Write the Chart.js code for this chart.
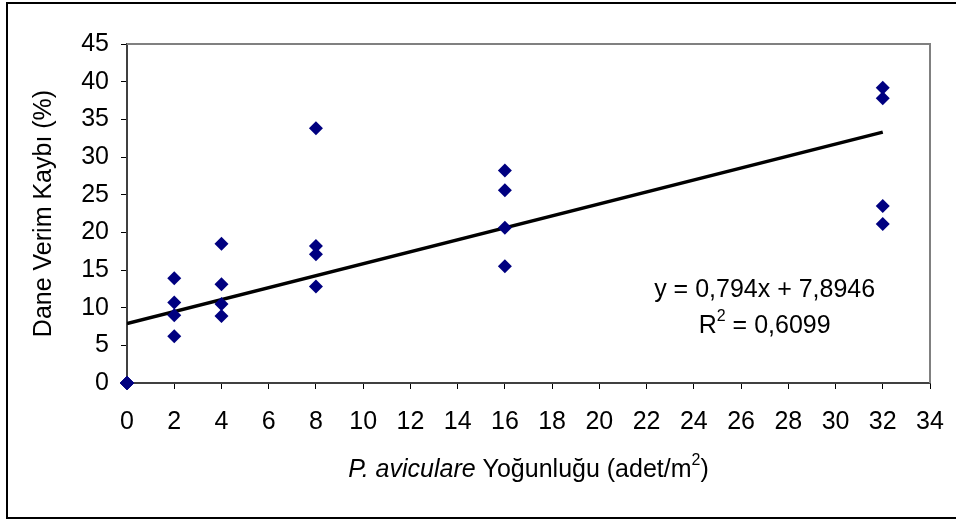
<!DOCTYPE html>
<html>
<head>
<meta charset="utf-8">
<script src="https://cdn.jsdelivr.net/npm/chart.js@4"></script>
<style>
  html, body { margin: 0; padding: 0; background: #fff; }
  #wrap { width: 956px; height: 521px; }
</style>
</head>
<body>
<div id="wrap"><canvas id="chart" width="956" height="521"></canvas></div>
<script>
// yoğunluk (adet/m2) ve dane verim kaybı (%)
const density = [0, 0, 0, 0, 2, 2, 2, 2, 4, 4, 4, 4, 8, 8, 8, 8, 16, 16, 16, 16, 32, 32, 32, 32];
const yieldLoss = [0, 0, 0, 0, 13.9, 10.7, 9.0, 6.2, 18.5, 13.1, 10.5, 8.9, 33.8, 18.2, 17.1, 12.8, 28.2, 25.6, 20.6, 15.5, 39.2, 37.8, 23.5, 21.1];

// trend çizgisi katsayıları (grafikte yazan)
const slope = 0.794;
const intercept = 7.8946;
const rSquared = '0,6099';
const trendX = [0, 32];

const xTicks = [0, 34, 2];   // min, max, adım
const yTicks = [0, 45, 5];

const FONT = 'Liberation Sans, Arial, sans-serif';
const SIZE = 25;

let points = density.map((x, i) => ({ x: x, y: yieldLoss[i] }));
let trend = trendX.map(x => ({ x: x, y: slope * x + intercept }));

// dış çerçeve, çizim alanı kenarı ve metinler
const decor = {
    id: 'decor',
    beforeDraw(chart) {
        const ctx = chart.ctx;
        ctx.save();
        ctx.fillStyle = '#fff';
        ctx.fillRect(0, 0, chart.width, chart.height);
        ctx.restore();
    },
    afterDraw(chart) {
        const ctx = chart.ctx, a = chart.chartArea;
        const xs = chart.scales.x;
        ctx.save();
        // çizim alanının üst ve sağ kenarı
        ctx.strokeStyle = '#808080';
        ctx.lineWidth = 2;
        ctx.beginPath();
        ctx.moveTo(a.left, a.top);
        ctx.lineTo(a.right, a.top);
        ctx.lineTo(a.right, a.bottom);
        ctx.stroke();
        // dış çerçeve
        ctx.strokeStyle = '#000';
        ctx.lineWidth = 2;
        ctx.strokeRect(7, 3, 1000, 515);

        ctx.fillStyle = '#000';
        ctx.textBaseline = 'middle';
        ctx.textAlign = 'left';

        const small = Math.round(SIZE * 0.65) + 'px ' + FONT;
        const normal = SIZE + 'px ' + FONT;

        // x ekseni başlığı
        drawParts(ctx, [
            { t: 'P. aviculare', f: 'italic ' + normal, dy: 0 },
            { t: ' Yoğunluğu (adet/m', f: normal, dy: 0 },
            { t: '2', f: small, dy: -9 },
            { t: ')', f: normal, dy: 0 }
        ], (a.left + a.right) / 2, 470);

        // denklem
        const ex = xs.getPixelForValue(27);
        drawParts(ctx, [{ t: 'y = 0,794x + 7,8946', f: normal, dy: 0 }], ex, 290);
        drawParts(ctx, [
            { t: 'R', f: normal, dy: 0 },
            { t: '2', f: small, dy: -9 },
            { t: ' = ' + rSquared, f: normal, dy: 0 }
        ], ex, 326);
        ctx.restore();
    }
};

function drawParts(ctx, parts, cx, cy) {
    let total = 0;
    parts.forEach(p => { ctx.font = p.f; p.w = ctx.measureText(p.t).width; total += p.w; });
    let x = cx - total / 2;
    parts.forEach(p => {
        ctx.font = p.f;
        ctx.fillText(p.t, x, cy + p.dy);
        x += p.w;
    });
}

new Chart(document.getElementById('chart'), {
    type: 'scatter',
    data: {
        datasets: [{
            label: 'Verim kaybı',
            data: points,
            pointStyle: 'rectRot',
            pointRadius: 7,
            pointHoverRadius: 7,
            backgroundColor: '#000080',
            borderColor: '#000080',
            borderWidth: 0,
            clip: false,
            order: 1
        }, {
            label: 'Trend',
            type: 'line',
            data: trend,
            borderColor: '#000',
            borderWidth: 3.5,
            pointRadius: 0,
            fill: false,
            order: 2
        }]
    },
    plugins: [decor],
    options: {
        responsive: false,
        animation: false,
        layout: { padding: { left: 7, top: 44, right: 26, bottom: 0 } },
        plugins: { legend: { display: false }, tooltip: { enabled: false } },
        scales: {
            x: {
                type: 'linear',
                min: xTicks[0], max: xTicks[1],
                ticks: { stepSize: xTicks[2], color: '#000', padding: 18, font: { family: FONT, size: SIZE } },
                grid: { drawOnChartArea: false, tickLength: 6, color: '#000' },
                border: { color: '#404040', width: 2 },
                afterFit: s => { s.height = 138; s.paddingRight = 0; s.paddingLeft = 0; }
            },
            y: {
                min: yTicks[0], max: yTicks[1],
                ticks: { stepSize: yTicks[2], color: '#000', padding: 12, font: { family: FONT, size: SIZE } },
                grid: { drawOnChartArea: false, tickLength: 6, color: '#000' },
                border: { color: '#404040', width: 2 },
                title: {
                    display: true,
                    text: 'Dane Verim Kaybı (%)',
                    color: '#000',
                    font: { family: FONT, size: SIZE },
                    padding: { top: 22, bottom: 0 }
                },
                afterFit: s => { s.width = 120; s.paddingTop = 0; s.paddingBottom = 0; }
            }
        }
    }
});
</script>
</body>
</html>
